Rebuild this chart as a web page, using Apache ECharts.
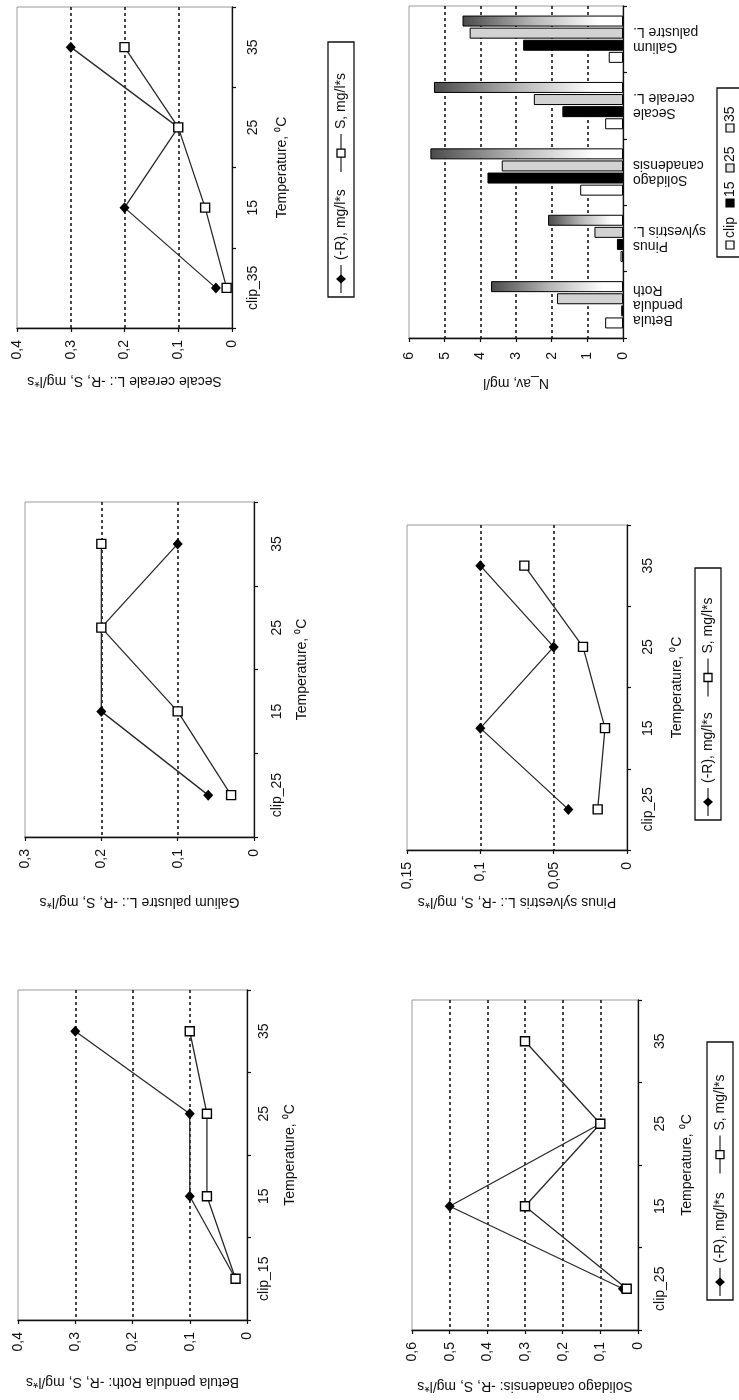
<!DOCTYPE html>
<html>
<head>
<meta charset="utf-8">
<script src="https://cdn.jsdelivr.net/npm/echarts@6/dist/echarts.min.js"></script>
<style>
html,body{margin:0;padding:0;background:#fff;}
#c{width:739px;height:1400px;}
</style>
</head>
<body>
<div id="c"></div>
<script>
// ---------- DATA ----------
const secaleCats = ['clip_35', '15', '25', '35'];
const secaleR = [0.03, 0.2, 0.1, 0.3];
const secaleS = [0.01, 0.05, 0.1, 0.2];

const galiumCats = ['clip_25', '15', '25', '35'];
const galiumR = [0.06, 0.2, 0.2, 0.1];
const galiumS = [0.03, 0.1, 0.2, 0.2];

const pinusCats = ['clip_25', '15', '25', '35'];
const pinusR = [0.04, 0.1, 0.05, 0.1];
const pinusS = [0.02, 0.015, 0.03, 0.07];

const betulaCats = ['clip_15', '15', '25', '35'];
const betulaR = [0.02, 0.1, 0.1, 0.3];
const betulaS = [0.02, 0.07, 0.07, 0.1];

const solidagoCats = ['clip_25', '15', '25', '35'];
const solidagoR = [0.04, 0.5, 0.1, null];
const solidagoS = [0.03, 0.3, 0.1, 0.3];

const barCats = ['Betula\npendula\nRoth', 'Pinus\nsylvestris L.', 'Solidago\ncanadensis', 'Secale\ncereale L.', 'Galium\npalustre L.'];
const barClip = [0.5, 0.07, 1.2, 0.5, 0.4];
const bar15 = [0.05, 0.17, 3.8, 1.7, 2.8];
const bar25 = [1.85, 0.8, 3.4, 2.5, 4.3];
const bar35 = [3.7, 2.1, 5.4, 5.3, 4.5];

const seriesNames = ['(-R), mg/l*s', 'S, mg/l*s'];
const barSeriesNames = ['clip', '15', '25', '35'];
const tempTitle = 'Temperature, \u2070C';

// ---------- STYLE ----------
const FONT = '"Liberation Sans", Arial, sans-serif';
const TXT = '#111';
const FS = 14;

const grids = [], xAxes = [], yAxes = [], series = [], graphics = [];

function fmtComma(v) { return String(+v.toFixed(3)).replace('.', ','); }

function splitColors(max, interval) {
  const n = Math.round(max / interval);
  const arr = ['rgba(0,0,0,0)'];
  for (let i = 1; i < n; i++) arr.push('#1a1a1a');
  return arr;
}

function addPanel(p) {
  const i = grids.length;
  grids.push({
    left: p.grid[0], top: p.grid[1], width: p.grid[2], height: p.grid[3],
    show: true, borderColor: '#9a9a9a', borderWidth: 1, backgroundColor: 'rgba(0,0,0,0)'
  });
  xAxes.push({
    gridIndex: i, type: 'value', min: 0, max: p.max, interval: p.interval,
    inverse: true, position: 'bottom',
    axisLine: { show: true, onZero: false, lineStyle: { color: '#111', width: 1.3 } },
    axisTick: { show: true, length: 4, lineStyle: { color: '#111', width: 1.2 } },
    axisLabel: { rotate: 90, margin: p.vMargin, color: TXT, fontSize: FS, fontFamily: FONT,
      formatter: p.fmt || fmtComma },
    splitLine: { show: true, lineStyle: { type: [3, 3], width: 1.6, color: splitColors(p.max, p.interval) } },
    name: p.vTitle, nameLocation: 'middle', nameRotate: 180, nameGap: p.vNameGap,
    nameTextStyle: { color: TXT, fontSize: FS, fontFamily: FONT }
  });
  yAxes.push({
    gridIndex: i, type: 'category', data: p.cats, position: 'right', boundaryGap: true,
    axisLine: { show: true, onZero: false, lineStyle: { color: '#111', width: 1.3 } },
    axisTick: { show: true, length: 4, lineStyle: { color: '#111', width: 1.2 } },
    axisLabel: { rotate: p.cRotate, margin: p.cMargin, color: TXT, fontSize: FS, fontFamily: FONT, lineHeight: 15 },
    splitLine: { show: false },
    name: p.cTitle || '', nameLocation: 'middle', nameRotate: 90, nameGap: p.cNameGap || 40,
    nameTextStyle: { color: TXT, fontSize: FS, fontFamily: FONT }
  });
  return i;
}

function pairs(vals, cats) {
  const out = [];
  vals.forEach((v, j) => { if (v !== null && v !== undefined) out.push([v, cats[j]]); });
  return out;
}

function addLines(i, cats, R, S) {
  series.push({
    type: 'line', name: seriesNames[0], xAxisIndex: i, yAxisIndex: i, data: pairs(R, cats),
    symbol: 'diamond', symbolSize: [10, 11], showAllSymbol: true,
    itemStyle: { color: '#000' }, lineStyle: { color: '#2a2a2a', width: 1.3 }, z: 3, animation: false
  });
  series.push({
    type: 'line', name: seriesNames[1], xAxisIndex: i, yAxisIndex: i, data: pairs(S, cats),
    symbol: 'rect', symbolSize: 9, showAllSymbol: true,
    itemStyle: { color: '#fff', borderColor: '#000', borderWidth: 1.4 },
    lineStyle: { color: '#2a2a2a', width: 1.3 }, z: 4, animation: false
  });
}

function lineLegend(x, yBottom, len) {
  const h = 26, cy = 13;
  const txt = (t, lx) => ({ type: 'text', x: lx, y: cy,
    style: { text: t, fill: TXT, fontSize: FS, fontFamily: FONT, verticalAlign: 'middle', align: 'left' } });
  return {
    type: 'group', x: x, y: yBottom, rotation: Math.PI / 2,
    children: [
      { type: 'rect', shape: { x: 0, y: 0, width: len, height: h }, style: { fill: '#fff', stroke: '#111', lineWidth: 1.3 } },
      { type: 'line', shape: { x1: 4, y1: cy, x2: 32, y2: cy }, style: { stroke: '#222', lineWidth: 1.2 } },
      { type: 'polygon', shape: { points: [[18, cy - 5], [22.5, cy], [18, cy + 5], [13.5, cy]] }, style: { fill: '#000' } },
      txt(seriesNames[0], 37),
      { type: 'line', shape: { x1: len * 0.49, y1: cy, x2: len * 0.49 + 38, y2: cy }, style: { stroke: '#222', lineWidth: 1.2 } },
      { type: 'rect', shape: { x: len * 0.49 + 15, y: cy - 4, width: 8, height: 8 }, style: { fill: '#fff', stroke: '#000', lineWidth: 1.3 } },
      txt(seriesNames[1], len * 0.49 + 43)
    ]
  };
}

// ---------- PANELS ----------
let gi;
gi = addPanel({ grid: [17, 7, 215, 321], max: 0.4, interval: 0.1, cats: secaleCats,
  vTitle: 'Secale cereale L.: -R, S, mg/l*s', vNameGap: 46, vMargin: 12,
  cTitle: tempTitle, cNameGap: 43, cMargin: 14, cRotate: 90 });
addLines(gi, secaleCats, secaleR, secaleS);

gi = addPanel({ grid: [25, 502, 229, 335], max: 0.3, interval: 0.1, cats: galiumCats,
  vTitle: 'Galium palustre L.: -R, S, mg/l*s', vNameGap: 58, vMargin: 12,
  cTitle: tempTitle, cNameGap: 41, cMargin: 16, cRotate: 90 });
addLines(gi, galiumCats, galiumR, galiumS);

gi = addPanel({ grid: [407, 525, 220, 325], max: 0.15, interval: 0.05, cats: pinusCats,
  vTitle: 'Pinus sylvestris L.: -R, S, mg/l*s', vNameGap: 45, vMargin: 12,
  cTitle: tempTitle, cNameGap: 43, cMargin: 14, cRotate: 90 });
addLines(gi, pinusCats, pinusR, pinusS);

gi = addPanel({ grid: [18, 990, 229, 330], max: 0.4, interval: 0.1, cats: betulaCats,
  vTitle: 'Betula pendula Roth: -R, S, mg/l*s', vNameGap: 55, vMargin: 12,
  cTitle: tempTitle, cNameGap: 36, cMargin: 10, cRotate: 90 });
addLines(gi, betulaCats, betulaR, betulaS);

gi = addPanel({ grid: [412, 1000, 226, 330], max: 0.6, interval: 0.1, cats: solidagoCats,
  vTitle: 'Solidago canadensis: -R, S, mg/l*s', vNameGap: 49, vMargin: 12,
  cTitle: tempTitle, cNameGap: 42, cMargin: 15, cRotate: 90 });
addLines(gi, solidagoCats, solidagoR, solidagoS);

// bar panel
gi = addPanel({ grid: [409, 6, 214, 332], max: 6, interval: 1, cats: barCats,
  vTitle: 'N_av, mg/l', vNameGap: 38, vMargin: 14, fmt: v => String(v),
  cTitle: '', cMargin: 10, cRotate: 180 });

const grad35 = { type: 'linear', x: 0, y: 0, x2: 1, y2: 0,
  colorStops: [{ offset: 0, color: '#4a4a4a' }, { offset: 0.45, color: '#b8b8b8' }, { offset: 0.85, color: '#ffffff' }, { offset: 1, color: '#ffffff' }] };
const barFills = ['#ffffff', '#000000', '#d2d2d2', grad35];
const barVals = [barClip, bar15, bar25, bar35];
// pushed in reverse so that "clip" sits lowest and "35" highest in each group
for (let k = barVals.length - 1; k >= 0; k--) {
  series.push({
    type: 'bar', name: barSeriesNames[k], xAxisIndex: gi, yAxisIndex: gi, data: barVals[k],
    barWidth: 11, barGap: '10%',
    itemStyle: { color: barFills[k], borderColor: '#000', borderWidth: 1 }, animation: false
  });
}

// ---------- LEGENDS ----------
graphics.push(lineLegend(328, 297, 255));
graphics.push(lineLegend(695, 820, 252));
graphics.push(lineLegend(707, 1300, 258));

(function barLegend() {
  const ch = [{ type: 'rect', shape: { x: 0, y: 0, width: 169, height: 30 }, style: { fill: '#fff', stroke: '#111', lineWidth: 1.3 } }];
  const boxAt = [12, 54, 89, 129], txtAt = [19, 60, 95, 135];
  barSeriesNames.forEach((n, k) => {
    ch.push({ type: 'rect', shape: { x: boxAt[k] - 4, y: 9, width: 8, height: 8 },
      style: { fill: k === 3 ? '#eeeeee' : (k === 2 ? '#e4e4e4' : barFills[k]), stroke: '#000', lineWidth: 1.2 } });
    ch.push({ type: 'text', x: txtAt[k], y: 13, style: { text: n, fill: TXT, fontSize: FS, fontFamily: FONT, verticalAlign: 'middle' } });
  });
  graphics.push({ type: 'group', x: 717, y: 257, rotation: Math.PI / 2, children: ch });
})();

const chart = echarts.init(document.getElementById('c'), null, { renderer: 'canvas' });
chart.setOption({
  animation: false,
  backgroundColor: '#fff',
  textStyle: { fontFamily: FONT, color: TXT },
  grid: grids, xAxis: xAxes, yAxis: yAxes, series: series,
  graphic: graphics
});
</script>
</body>
</html>
